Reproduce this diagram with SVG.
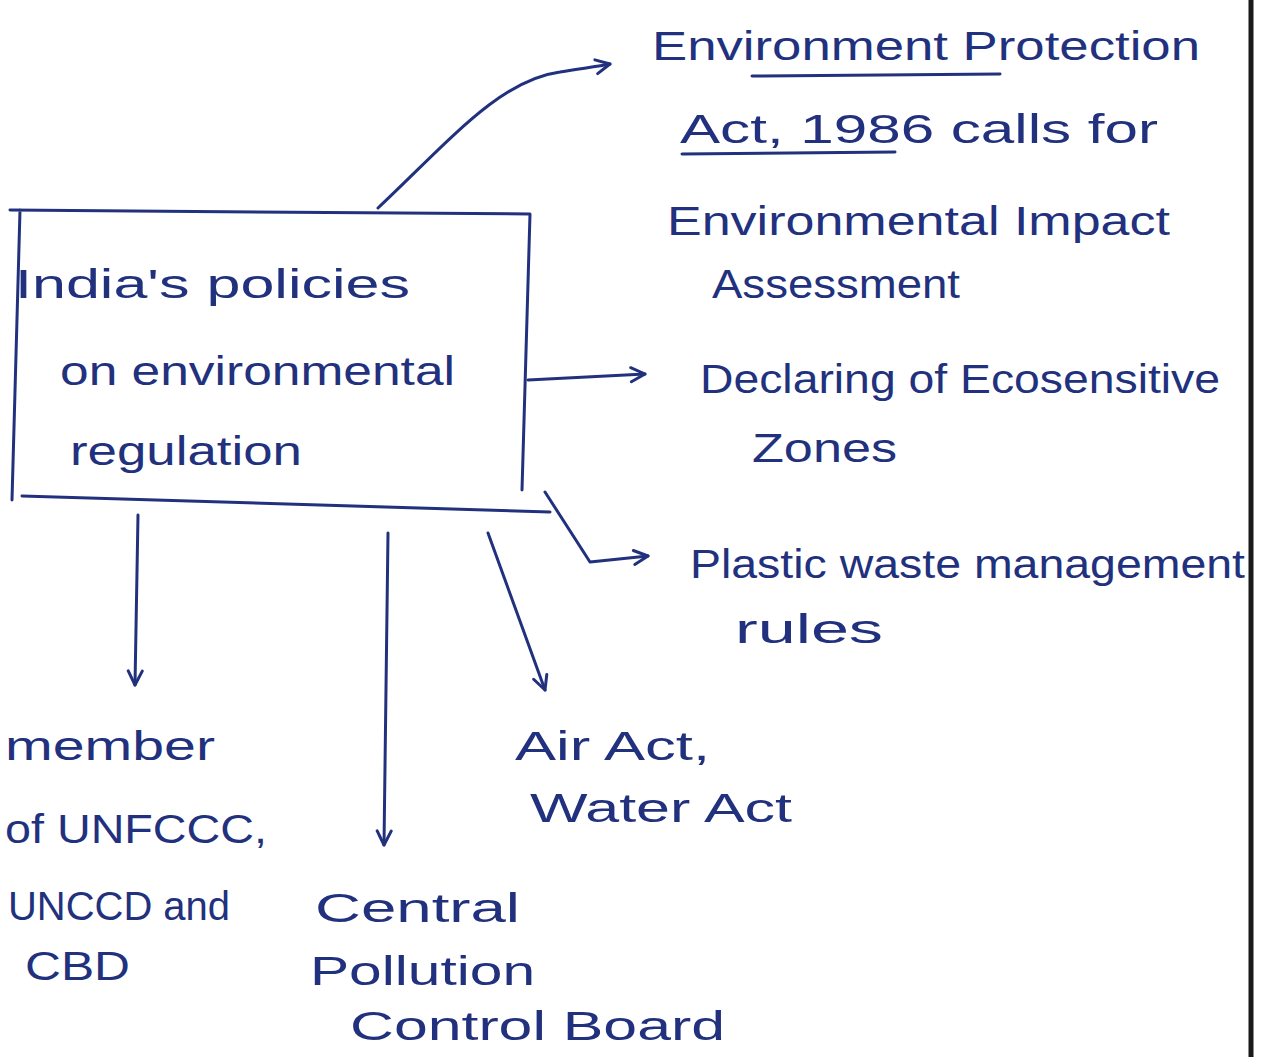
<svg xmlns="http://www.w3.org/2000/svg" width="1272" height="1057" viewBox="0 0 1272 1057">
<defs>
<marker id="ah" viewBox="0 0 20 20" refX="18" refY="10" markerWidth="20" markerHeight="20" markerUnits="userSpaceOnUse" orient="auto">
<path d="M4,3 L18,10 L4,17" fill="none" stroke="#22317e" stroke-width="3" stroke-linecap="round" stroke-linejoin="round"/>
</marker>
</defs>
<style>
.t{font-family:"Liberation Sans",Arial,sans-serif;font-size:40px;fill:#22317e}
.ln{fill:none;stroke:#22317e;stroke-width:3;stroke-linecap:round;stroke-linejoin:round}
</style>
<rect width="1272" height="1057" fill="#ffffff"/>
<line x1="1251" y1="0" x2="1251" y2="1057" stroke="#1a1a1a" stroke-width="5"/>
<g id="connectors">
<path class="ln" d="M378,208 C450,140 500,80 560,72 C585,68 600,66 610,64" marker-end="url(#ah)"/>
<path class="ln" d="M528,380 L645,374" marker-end="url(#ah)"/>
<path class="ln" d="M545,492 L590,562 L648,556" marker-end="url(#ah)"/>
<path class="ln" d="M138,515 L135,685" marker-end="url(#ah)"/>
<path class="ln" d="M388,533 L384,845" marker-end="url(#ah)"/>
<path class="ln" d="M488,533 L545,690" marker-end="url(#ah)"/>
</g>
<g id="center">
<path class="ln" d="M10,210 L530,214 L522,490 M20,210 L12,500 M22,496 L550,512"/>
<text class="t" x="15" y="298" font-size="44" textLength="395" lengthAdjust="spacingAndGlyphs">India's policies</text>
<text class="t" x="60" y="385" font-size="44" textLength="395" lengthAdjust="spacingAndGlyphs">on environmental</text>
<text class="t" x="70" y="465" font-size="44" textLength="232" lengthAdjust="spacingAndGlyphs">regulation</text>
</g>
<g id="epa">
<text class="t" x="652" y="60" textLength="548" lengthAdjust="spacingAndGlyphs">Environment Protection</text>
<path class="ln" d="M752,76 L1000,74"/>
<text class="t" x="680" y="143" textLength="478" lengthAdjust="spacingAndGlyphs">Act, 1986 calls for</text>
<path class="ln" d="M682,154 L895,152"/>
<text class="t" x="667" y="235" textLength="503" lengthAdjust="spacingAndGlyphs">Environmental Impact</text>
<text class="t" x="712" y="298" textLength="248" lengthAdjust="spacingAndGlyphs">Assessment</text>
</g>
<g id="eco">
<text class="t" x="700" y="393" textLength="520" lengthAdjust="spacingAndGlyphs">Declaring of Ecosensitive</text>
<text class="t" x="752" y="462" textLength="145" lengthAdjust="spacingAndGlyphs">Zones</text>
</g>
<g id="plastic">
<text class="t" x="690" y="578" textLength="555" lengthAdjust="spacingAndGlyphs">Plastic waste management</text>
<text class="t" x="735" y="643" textLength="148" lengthAdjust="spacingAndGlyphs">rules</text>
</g>
<g id="unfccc">
<text class="t" x="5" y="760" textLength="210" lengthAdjust="spacingAndGlyphs">member</text>
<text class="t" x="5" y="843" textLength="262" lengthAdjust="spacingAndGlyphs">of UNFCCC,</text>
<text class="t" x="8" y="920" textLength="222" lengthAdjust="spacingAndGlyphs">UNCCD and</text>
<text class="t" x="25" y="980" textLength="105" lengthAdjust="spacingAndGlyphs">CBD</text>
</g>
<g id="cpcb">
<text class="t" x="315" y="922" textLength="205" lengthAdjust="spacingAndGlyphs">Central</text>
<text class="t" x="310" y="985" textLength="225" lengthAdjust="spacingAndGlyphs">Pollution</text>
<text class="t" x="350" y="1040" textLength="375" lengthAdjust="spacingAndGlyphs">Control Board</text>
</g>
<g id="airwater">
<text class="t" x="515" y="760" textLength="195" lengthAdjust="spacingAndGlyphs">Air Act,</text>
<text class="t" x="530" y="822" textLength="262" lengthAdjust="spacingAndGlyphs">Water Act</text>
</g>
</svg>
